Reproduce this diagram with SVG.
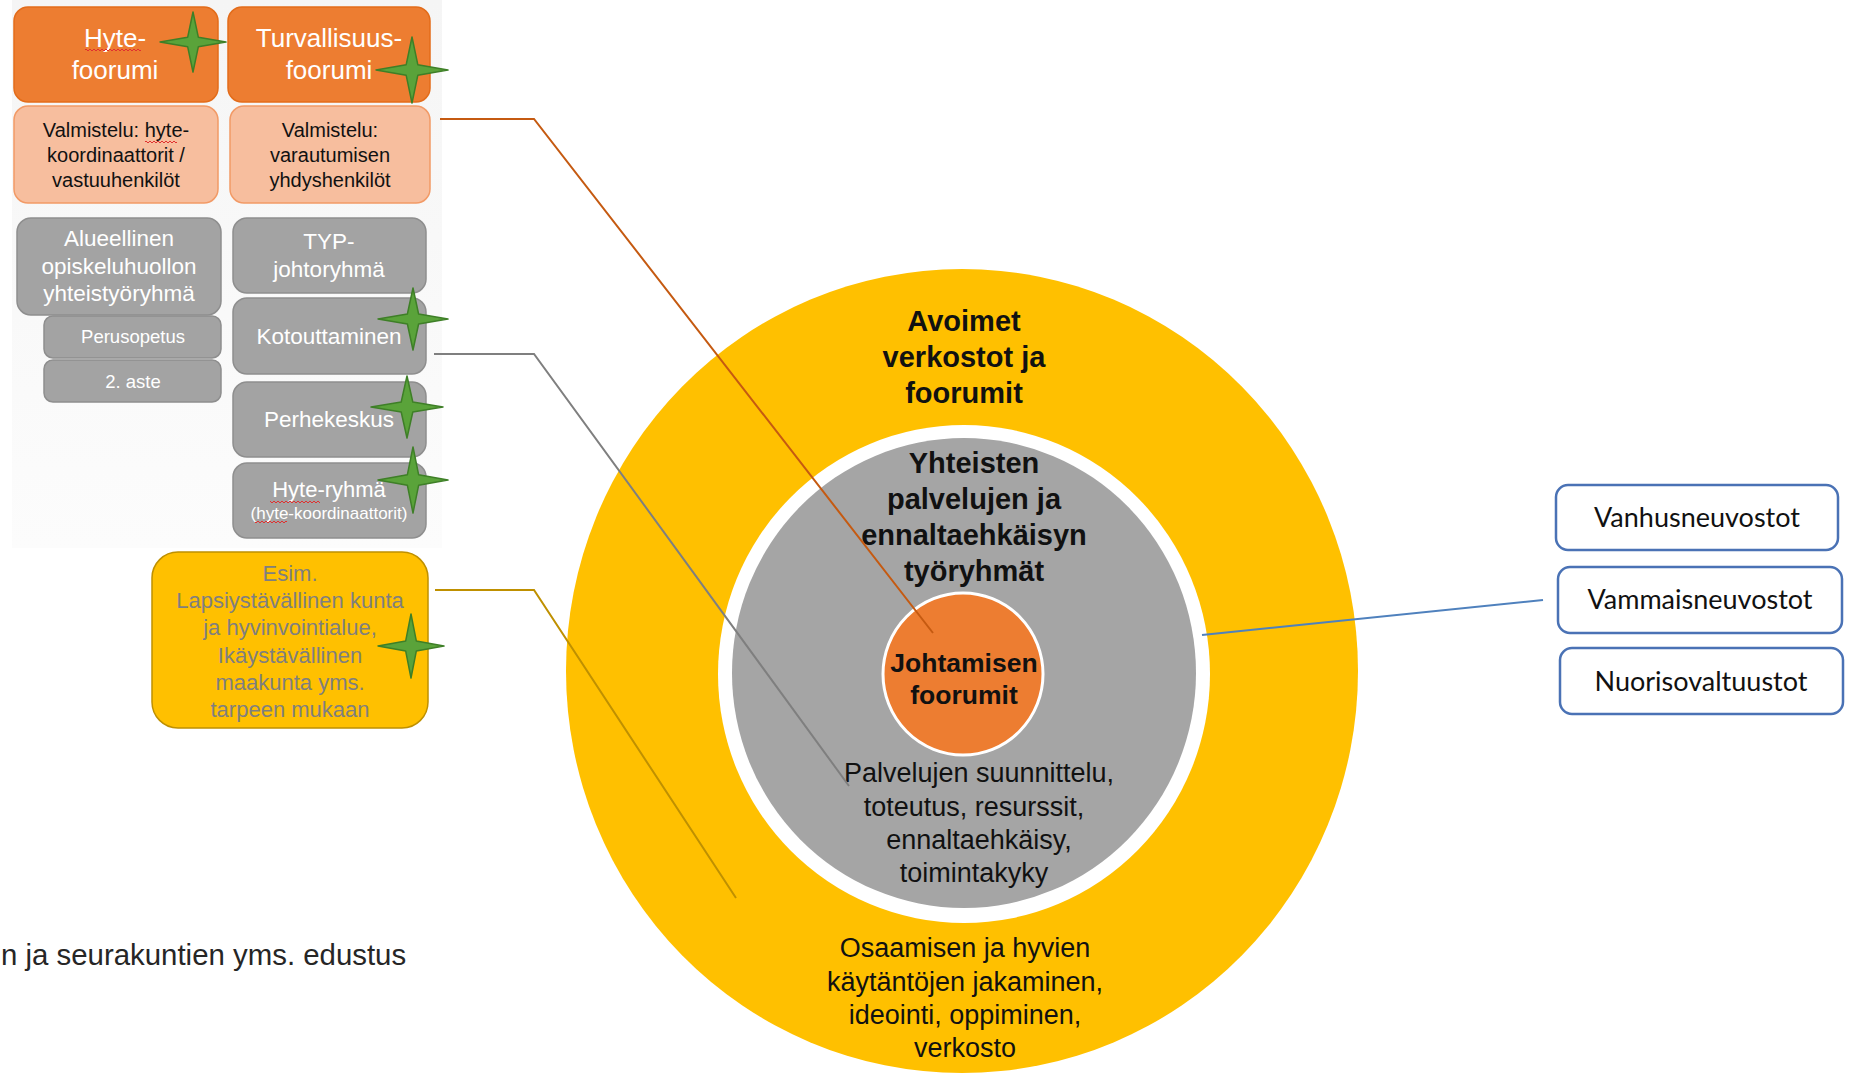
<svg xmlns="http://www.w3.org/2000/svg" width="1860" height="1074" viewBox="0 0 1860 1074">
<defs>
<linearGradient id="panelBg" x1="0" y1="0" x2="0" y2="1">
<stop offset="0" stop-color="#f5f5f5"/>
<stop offset="1" stop-color="#fcfcfc"/>
</linearGradient>
<pattern id="wavy" width="4" height="4" patternUnits="userSpaceOnUse">
<path d="M0,3 L2,1 L4,3" fill="none" stroke="#e03030" stroke-width="1"/>
</pattern>
</defs>
<style>
text{font-family:"Liberation Sans",Arial,sans-serif;}
.t{text-anchor:middle;}
.w{fill:#ffffff;}
.k{fill:#111111;}
.b{font-weight:bold;}
.orange{fill:#ED7D31;stroke:#E36C1A;stroke-width:1.5;}
.prep{fill:#F7BE9E;stroke:#F29A66;stroke-width:1.5;}
.grey{fill:#A3A3A3;stroke:#8E8E8E;stroke-width:1.5;}
.yel{fill:#FFC000;stroke:#BF9000;stroke-width:1.5;}
.blue{fill:#ffffff;stroke:#4A72B5;stroke-width:2.5;}
.star{fill:#5AA33A;stroke:#3E7F27;stroke-width:1.5;stroke-linejoin:round;}
.conn{fill:none;stroke-width:2;}
.calibri{font-family:Lato,"Open Sans",sans-serif;font-size:27px;fill:#111;text-anchor:middle;}
</style>
<rect width="1860" height="1074" fill="#ffffff"/>
<rect x="12" y="0" width="430" height="548" fill="url(#panelBg)"/>

<!-- circles -->
<g id="circle-outer">
<ellipse cx="962" cy="671" rx="396" ry="402" fill="#FFC000"/>
<text class="t k b" font-size="29" x="964" y="331">Avoimet</text>
<text class="t k b" font-size="29" x="964" y="367">verkostot ja</text>
<text class="t k b" font-size="29" x="964" y="403">foorumit</text>
<text class="t k" font-size="27" x="965" y="957">Osaamisen ja hyvien</text>
<text class="t k" font-size="27" x="965" y="991">käytäntöjen jakaminen,</text>
<text class="t k" font-size="27" x="965" y="1024">ideointi, oppiminen,</text>
<text class="t k" font-size="27" x="965" y="1057">verkosto</text>
</g>
<g id="circle-middle">
<ellipse cx="964" cy="674" rx="246" ry="249" fill="#ffffff"/>
<ellipse cx="964" cy="673" rx="232" ry="235" fill="#A5A5A5"/>
<text class="t k b" font-size="29" x="974" y="473">Yhteisten</text>
<text class="t k b" font-size="29" x="974" y="509">palvelujen ja</text>
<text class="t k b" font-size="29" x="974" y="545">ennaltaehkäisyn</text>
<text class="t k b" font-size="29" x="974" y="581">työryhmät</text>
<text class="t k" font-size="27" x="979" y="782">Palvelujen suunnittelu,</text>
<text class="t k" font-size="27" x="974" y="816">toteutus, resurssit,</text>
<text class="t k" font-size="27" x="979" y="849">ennaltaehkäisy,</text>
<text class="t k" font-size="27" x="974" y="882">toimintakyky</text>
</g>
<g id="circle-inner">
<ellipse cx="963" cy="674" rx="80" ry="81" fill="#ED7D31" stroke="#ffffff" stroke-width="3"/>
<text class="t k b" font-size="26.5" x="964" y="672">Johtamisen</text>
<text class="t k b" font-size="26.5" x="964" y="704">foorumit</text>
</g>

<!-- connectors -->
<g id="connectors">
<polyline class="conn" stroke="#C55A11" points="440,119 534,119 933,633"/>
<polyline class="conn" stroke="#7F7F7F" points="434,354 534,354 849,786"/>
<polyline class="conn" stroke="#BF9000" points="435,590 534,590 736,898"/>
<line class="conn" stroke="#4F81BD" x1="1202" y1="635" x2="1543" y2="600"/>
</g>

<!-- left panel -->
<g id="hyte-foorumi">
<rect class="orange" x="14" y="7" width="204" height="95" rx="14"/>
<text class="t w" font-size="26" x="115" y="47">Hyte-</text>
<text class="t w" font-size="26" x="115" y="79">foorumi</text>
<rect x="85" y="49" width="56" height="4" fill="url(#wavy)"/>
</g>
<g id="turvallisuus-foorumi">
<rect class="orange" x="228" y="7" width="202" height="95" rx="14"/>
<text class="t w" font-size="26" x="329" y="47">Turvallisuus-</text>
<text class="t w" font-size="26" x="329" y="79">foorumi</text>
</g>
<g id="valmistelu-hyte">
<rect class="prep" x="14" y="106" width="204" height="97" rx="14"/>
<text class="t k" font-size="20" x="116" y="137">Valmistelu: hyte-</text>
<text class="t k" font-size="20" x="116" y="162">koordinaattorit /</text>
<text class="t k" font-size="20" x="116" y="187">vastuuhenkilöt</text>
<rect x="145" y="139" width="32" height="4" fill="url(#wavy)"/>
</g>
<g id="valmistelu-varautuminen">
<rect class="prep" x="230" y="106" width="200" height="97" rx="14"/>
<text class="t k" font-size="20" x="330" y="137">Valmistelu:</text>
<text class="t k" font-size="20" x="330" y="162">varautumisen</text>
<text class="t k" font-size="20" x="330" y="187">yhdyshenkilöt</text>
</g>
<g id="opiskeluhuolto">
<rect class="grey" x="17" y="218" width="204" height="97" rx="14"/>
<text class="t w" font-size="22.5" x="119" y="246">Alueellinen</text>
<text class="t w" font-size="22.5" x="119" y="274">opiskeluhuollon</text>
<text class="t w" font-size="22.5" x="119" y="301">yhteistyöryhmä</text>
</g>
<g id="perusopetus">
<rect class="grey" x="44" y="316" width="177" height="42" rx="9"/>
<text class="t w" font-size="18.5" x="133" y="343">Perusopetus</text>
</g>
<g id="toinen-aste">
<rect class="grey" x="44" y="360" width="177" height="42" rx="9"/>
<text class="t w" font-size="18.5" x="133" y="388">2. aste</text>
</g>
<g id="typ">
<rect class="grey" x="233" y="218" width="193" height="75" rx="14"/>
<text class="t w" font-size="22.5" x="329" y="249">TYP-</text>
<text class="t w" font-size="22.5" x="329" y="277">johtoryhmä</text>
</g>
<g id="kotouttaminen">
<rect class="grey" x="233" y="298" width="193" height="76" rx="14"/>
<text class="t w" font-size="22.5" x="329" y="344">Kotouttaminen</text>
</g>
<g id="perhekeskus">
<rect class="grey" x="233" y="382" width="193" height="75" rx="14"/>
<text class="t w" font-size="22.5" x="329" y="427">Perhekeskus</text>
</g>
<g id="hyte-ryhma">
<rect class="grey" x="233" y="463" width="193" height="75" rx="14"/>
<text class="t w" font-size="22" x="329" y="497">Hyte-ryhmä</text>
<text class="t w" font-size="17" x="329" y="519">(hyte-koordinaattorit)</text>
<rect x="270" y="500" width="50" height="4" fill="url(#wavy)"/>
<rect x="255" y="521" width="32" height="4" fill="url(#wavy)"/>
</g>
<g id="esim">
<rect class="yel" x="152" y="552" width="276" height="176" rx="26"/>
<g fill="#7F7F7F" font-size="22" text-anchor="middle">
<text x="290" y="581">Esim.</text>
<text x="290" y="608">Lapsiystävällinen kunta</text>
<text x="290" y="635">ja hyvinvointialue,</text>
<text x="290" y="663">Ikäystävällinen</text>
<text x="290" y="690">maakunta yms.</text>
<text x="290" y="717">tarpeen mukaan</text>
</g>
</g>

<!-- stars -->
<g id="stars">
<polygon class="star" points="193,12 198.3,37.2 226,42 198.3,46.8 193,72 187.7,46.8 160,42 187.7,37.2"/>
<polygon class="star" points="412,37 417.8,64.7 448,70 417.8,75.3 412,103 406.2,75.3 376,70 406.2,64.7"/>
<polygon class="star" points="413,288 418.6,314 448,319 418.6,324 413,350 407.4,324 378,319 407.4,314"/>
<polygon class="star" points="407,376 412.8,402 443,407 412.8,412 407,438 401.2,412 371,407 401.2,402"/>
<polygon class="star" points="413,447 418.6,474.7 448,480 418.6,485.3 413,513 407.4,485.3 378,480 407.4,474.7"/>
<polygon class="star" points="411,614 416.3,640.9 444,646 416.3,651.1 411,678 405.7,651.1 378,646 405.7,640.9"/>
</g>

<!-- right boxes -->
<g id="vanhusneuvostot">
<rect class="blue" x="1556" y="485" width="282" height="65" rx="12"/>
<text class="calibri" x="1697" y="527">Vanhusneuvostot</text>
</g>
<g id="vammaisneuvostot">
<rect class="blue" x="1558" y="567" width="284" height="66" rx="12"/>
<text class="calibri" x="1700" y="609">Vammaisneuvostot</text>
</g>
<g id="nuorisovaltuustot">
<rect class="blue" x="1560" y="648" width="283" height="66" rx="12"/>
<text class="calibri" x="1701" y="691">Nuorisovaltuustot</text>
</g>

<g id="footer-text">
<text x="1" y="965" font-size="29.4" fill="#262626">n ja seurakuntien yms. edustus</text>
</g>
</svg>
